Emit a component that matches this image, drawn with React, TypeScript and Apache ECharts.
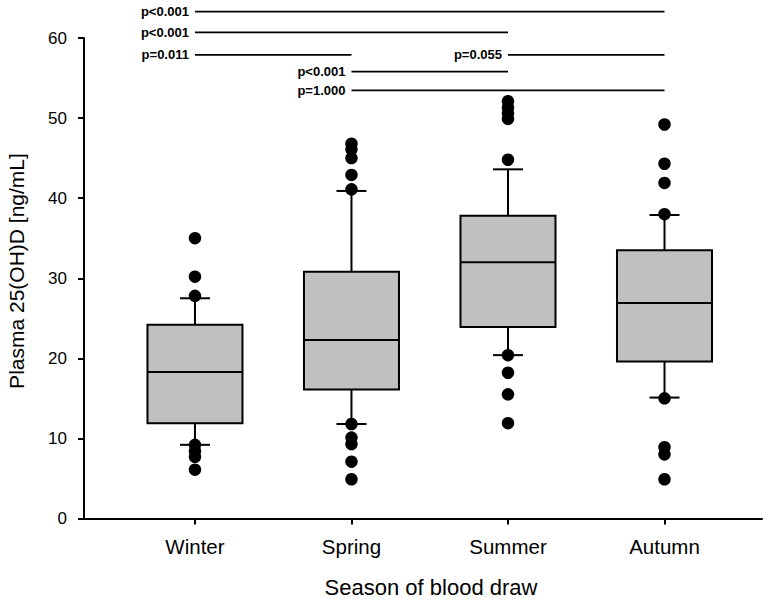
import React, { useEffect, useRef } from "react";
import * as echarts from "echarts";

// ---- data ----
const categories = ["Winter", "Spring", "Summer", "Autumn"];
const lowerWhisker = [9.2, 11.8, 20.4, 15.1];
const q1 = [11.9, 16.1, 23.9, 19.6];
const median = [18.3, 22.3, 32.0, 26.9];
const q3 = [24.2, 30.8, 37.8, 33.5];
const upperWhisker = [27.5, 40.9, 43.6, 37.9];

const outliersWinter = [35.0, 30.2, 27.8, 9.2, 8.4, 7.7, 6.1];
const outliersSpring = [46.8, 46.1, 45.0, 42.9, 41.1, 11.8, 10.1, 9.3, 7.1, 4.9];
const outliersSummer = [52.1, 51.3, 50.6, 49.9, 44.8, 20.4, 18.2, 15.5, 11.9];
const outliersAutumn = [49.2, 44.3, 41.9, 38.0, 15.0, 8.9, 8.0, 4.9];
const outliers = [outliersWinter, outliersSpring, outliersSummer, outliersAutumn];

const yTicks = { min: 0, max: 60, interval: 10 };

// significance brackets: from category, to category (1-based), height, label
const bracketFrom = [1, 1, 1, 3, 2, 2];
const bracketTo = [4, 3, 2, 4, 3, 4];
const bracketY = [63.3, 60.7, 57.9, 57.9, 55.8, 53.45];
const bracketLabels = ["p<0.001", "p<0.001", "p=0.011", "p=0.055", "p<0.001", "p=1.000"];

const FONT = '"Liberation Sans", Arial, sans-serif';

export default function App() {
  const ref = useRef<HTMLDivElement>(null);

  useEffect(() => {
    if (!ref.current) return;
    const chart = echarts.init(ref.current, undefined, { renderer: "svg" });
    const positions = categories.map((_, i) => i + 1);

    const boxData = categories.map((_, i) => [
      positions[i],
      lowerWhisker[i],
      q1[i],
      median[i],
      q3[i],
      upperWhisker[i],
    ]);
    const scatterData: number[][] = [];
    outliers.forEach((arr, i) => arr.forEach((v) => scatterData.push([positions[i], v])));
    const bracketData = bracketLabels.map((_, i) => [bracketFrom[i], bracketTo[i], bracketY[i]]);

    const BOX_W = 95;
    const CAP_W = 30;

    chart.setOption({
      animation: false,
      backgroundColor: "#fff",
      grid: { left: 84, right: 6, top: 38, bottom: 87.5, containLabel: false },
      xAxis: {
        type: "value",
        min: 0.291,
        max: 4.623,
        axisLine: { show: true, onZero: false, lineStyle: { color: "#000", width: 2 } },
        axisTick: { show: true, customValues: positions, length: 6, lineStyle: { color: "#000", width: 2 } },
        axisLabel: {
          customValues: positions,
          formatter: (v: number) => categories[Math.round(v) - 1] ?? "",
          margin: 17,
          fontSize: 20.5,
          color: "#000",
          fontFamily: FONT,
        },
        splitLine: { show: false },
      },
      yAxis: {
        type: "value",
        min: yTicks.min,
        max: yTicks.max,
        interval: yTicks.interval,
        axisLine: { show: true, lineStyle: { color: "#000", width: 2 } },
        axisTick: { show: true, length: 6, lineStyle: { color: "#000", width: 2 } },
        axisLabel: { margin: 17, fontSize: 17, color: "#000", fontFamily: FONT },
        splitLine: { show: false },
      },
      graphic: [
        {
          type: "text",
          x: 16,
          y: 271,
          rotation: Math.PI / 2,
          style: {
            text: "Plasma 25(OH)D [ng/mL]",
            font: `21px ${FONT}`,
            fill: "#000",
            textAlign: "center",
            textVerticalAlign: "middle",
          },
        },
        {
          type: "text",
          x: 431,
          y: 576,
          style: {
            text: "Season of blood draw",
            font: `22px ${FONT}`,
            fill: "#000",
            textAlign: "center",
            textVerticalAlign: "top",
          },
        },
      ],
      series: [
        {
          type: "custom",
          data: boxData,
          encode: { x: 0, y: [1, 2, 3, 4, 5] },
          z: 2,
          renderItem: (params: any, api: any) => {
            const x = api.value(0);
            const pLw = api.coord([x, api.value(1)]);
            const pQ1 = api.coord([x, api.value(2)]);
            const pMed = api.coord([x, api.value(3)]);
            const pQ3 = api.coord([x, api.value(4)]);
            const pUw = api.coord([x, api.value(5)]);
            const cx = pQ1[0];
            const ls = { stroke: "#000", lineWidth: 2 };
            return {
              type: "group",
              children: [
                { type: "line", shape: { x1: cx, y1: pLw[1], x2: cx, y2: pQ1[1] }, style: ls },
                { type: "line", shape: { x1: cx, y1: pQ3[1], x2: cx, y2: pUw[1] }, style: ls },
                { type: "line", shape: { x1: cx - CAP_W / 2, y1: pLw[1], x2: cx + CAP_W / 2, y2: pLw[1] }, style: ls },
                { type: "line", shape: { x1: cx - CAP_W / 2, y1: pUw[1], x2: cx + CAP_W / 2, y2: pUw[1] }, style: ls },
                {
                  type: "rect",
                  shape: { x: cx - BOX_W / 2, y: pQ3[1], width: BOX_W, height: pQ1[1] - pQ3[1] },
                  style: { fill: "#c0c0c0", stroke: "#000", lineWidth: 2 },
                },
                { type: "line", shape: { x1: cx - BOX_W / 2, y1: pMed[1], x2: cx + BOX_W / 2, y2: pMed[1] }, style: ls },
              ],
            };
          },
        },
        {
          type: "scatter",
          data: scatterData,
          symbol: "circle",
          symbolSize: 12.5,
          itemStyle: { color: "#000", opacity: 1 },
          z: 3,
        },
        {
          type: "custom",
          data: bracketData,
          encode: { x: [0, 1], y: 2 },
          clip: false,
          z: 4,
          renderItem: (params: any, api: any) => {
            const y = api.value(2);
            const p1 = api.coord([api.value(0), y]);
            const p2 = api.coord([api.value(1), y]);
            return {
              type: "group",
              children: [
                {
                  type: "line",
                  shape: { x1: p1[0], y1: p1[1], x2: p2[0], y2: p2[1] },
                  style: { stroke: "#000", lineWidth: 1.8 },
                },
                {
                  type: "text",
                  style: {
                    text: bracketLabels[params.dataIndex],
                    x: p1[0] - 6,
                    y: p1[1],
                    textAlign: "right",
                    textVerticalAlign: "middle",
                    font: `bold 13px ${FONT}`,
                    fill: "#000",
                  },
                },
              ],
            };
          },
        },
      ],
    });

    return () => chart.dispose();
  }, []);

  return (
    <div
      ref={ref}
      style={{ position: "absolute", left: 0, top: 0, width: 768, height: 606, background: "#fff" }}
    />
  );
}
